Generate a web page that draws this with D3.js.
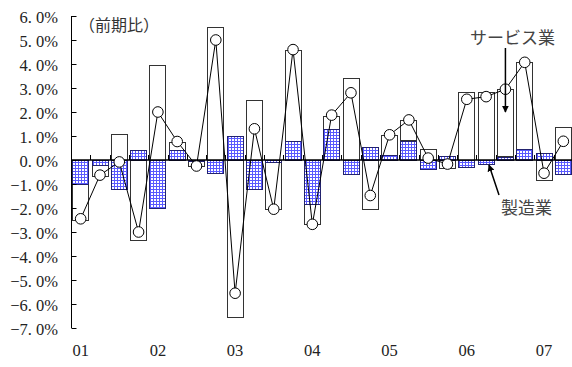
<!DOCTYPE html>
<html>
<head>
<meta charset="utf-8">
<script src="https://cdn.jsdelivr.net/npm/d3@7"></script>
<style>
  html, body { margin: 0; padding: 0; background: #fff; }
  svg { display: block; }
</style>
</head>
<body>
<svg id="chart" width="572" height="367"></svg>
<script>
// Quarterly contributions (%), 2001Q1 – 2007Q2
const quarters = [
  "01Q1","01Q2","01Q3","01Q4","02Q1","02Q2","02Q3","02Q4",
  "03Q1","03Q2","03Q3","03Q4","04Q1","04Q2","04Q3","04Q4",
  "05Q1","05Q2","05Q3","05Q4","06Q1","06Q2","06Q3","06Q4",
  "07Q1","07Q2"
];
// 製造業 contribution
const manufacturing = [
  -1.0, -0.2, -1.2, 0.4, -2.0, 0.4, -0.05, -0.55,
  1.0, -1.2, -0.1, 0.8, -1.85, 1.3, -0.58, 0.55,
  0.2, 0.8, -0.37, 0.17, -0.29, -0.17, 0.14, 0.44,
  0.28, -0.6
];
// サービス業 contribution
const services = [
  -1.5, -0.45, 1.07, -3.35, 3.95, 0.37, -0.2, 5.55,
  -6.55, 2.5, -1.95, 3.8, -0.85, 0.55, 3.4, -2.05,
  0.85, 0.85, 0.46, -0.35, 2.82, 2.82, 2.8, 3.63,
  -0.83, 1.39
];
// overall change (line with markers)
const total = [
  -2.45, -0.63, -0.08, -3.0, 2.0, 0.77, -0.25, 5.0,
  -5.55, 1.3, -2.05, 4.6, -2.68, 1.87, 2.8, -1.48,
  1.05, 1.67, 0.08, -0.17, 2.53, 2.64, 2.95, 4.07,
  -0.55, 0.78
];
const yearLabels = ["01","02","03","04","05","06","07"];
const yTicks = [6,5,4,3,2,1,0,-1,-2,-3,-4,-5,-6,-7];

const svg = d3.select("#chart");
const numFont = "'Liberation Serif', 'DejaVu Serif', serif";
const jpFont = "'Noto Sans CJK JP', 'Noto Sans CJK SC', sans-serif";

const plotLeft = 71, plotRight = 573, plotTop = 16, plotBottom = 328;

const x = d3.scaleBand().domain(quarters).range([plotLeft, plotRight])
  .paddingInner(0.13).paddingOuter(0.065);
const y = d3.scaleLinear().domain([-7, 6]).range([plotBottom, plotTop]);

// grid hatch for the manufacturing bars
const defs = svg.append("defs");
const pat = defs.append("pattern").attr("id", "hatch")
  .attr("patternUnits", "userSpaceOnUse").attr("width", 3).attr("height", 3);
pat.append("rect").attr("width", 3).attr("height", 3).attr("fill", "#fff");
pat.append("rect").attr("width", 1).attr("height", 3).attr("fill", "#5a5aff");
pat.append("rect").attr("width", 3).attr("height", 1).attr("fill", "#5a5aff");

defs.append("marker").attr("id", "arrow")
  .attr("viewBox", "0 0 10 10").attr("refX", 9).attr("refY", 5)
  .attr("markerWidth", 7).attr("markerHeight", 7)
  .attr("markerUnits", "userSpaceOnUse")
  .attr("orient", "auto")
  .append("path").attr("d", "M0,0 L10,5 L0,10 Z").attr("fill", "#000");

// diverging stack: manufacturing nearest the zero line, services beyond it
const rows = quarters.map((q, i) => ({ q, mfg: manufacturing[i], svc: services[i] }));
const stack = d3.stack().keys(["mfg", "svc"]).offset(d3.stackOffsetDiverging);
const series = stack(rows);

const fills = { mfg: "url(#hatch)", svc: "#fff" };
const strokes = { mfg: "#22226e", svc: "#333" };

// services first, then manufacturing on top
[series[1], series[0]].forEach(s => {
  svg.append("g").selectAll("rect").data(s).join("rect")
    .attr("x", d => Math.round(x(d.data.q)) + 0.5)
    .attr("width", Math.round(x.bandwidth()) - 1)
    .attr("y", d => Math.round(y(Math.max(d[0], d[1]))) + 0.5)
    .attr("height", d => Math.max(0, Math.round(Math.abs(y(d[0]) - y(d[1])))))
    .attr("fill", fills[s.key])
    .attr("stroke", strokes[s.key])
    .attr("stroke-width", 1);
});

// zero line with category ticks
svg.append("line")
  .attr("x1", plotLeft).attr("x2", 572)
  .attr("y1", y(0)).attr("y2", y(0))
  .attr("stroke", "#000").attr("stroke-width", 1.5);
svg.append("g").selectAll("line").data(quarters.slice(1)).join("line")
  .attr("x1", d => Math.round(x(d) - x.step() * x.paddingInner() / 2) + 0.5)
  .attr("x2", d => Math.round(x(d) - x.step() * x.paddingInner() / 2) + 0.5)
  .attr("y1", y(0) - 5).attr("y2", y(0))
  .attr("stroke", "#000").attr("stroke-width", 1);

// y axis
const yAxis = svg.append("g").attr("transform", `translate(${plotLeft + 0.5},0)`)
  .call(d3.axisRight(y).tickValues(yTicks).tickSize(5).tickFormat(""));
yAxis.select(".domain").attr("stroke", "#000").attr("d", `M0,${plotTop}V${plotBottom}`);
yAxis.selectAll(".tick line").attr("stroke", "#000");

svg.append("g").selectAll("text").data(yTicks).join("text")
  .attr("x", 58).attr("y", d => y(d) + 6.5)
  .attr("text-anchor", "end")
  .attr("font-family", numFont).attr("font-size", 16.5).attr("fill", "#222")
  .text(d => (d < 0 ? "\u2212" : "") + Math.abs(d).toFixed(1).replace(".", ". ") + "%");

// year labels under the first quarter of each year
svg.append("g").selectAll("text").data(yearLabels).join("text")
  .attr("x", d => x(d + "Q1") + x.bandwidth() / 2)
  .attr("y", 356)
  .attr("text-anchor", "middle")
  .attr("font-family", numFont).attr("font-size", 16.5).attr("fill", "#222")
  .text(d => d);

// total line and markers
const line = d3.line()
  .x((d, i) => x(quarters[i]) + x.bandwidth() / 2)
  .y(d => y(d));
svg.append("path").datum(total)
  .attr("d", line).attr("fill", "none")
  .attr("stroke", "#000").attr("stroke-width", 1);
svg.append("g").selectAll("circle").data(total).join("circle")
  .attr("cx", (d, i) => x(quarters[i]) + x.bandwidth() / 2)
  .attr("cy", d => y(d))
  .attr("r", 5.3)
  .attr("fill", "#fff").attr("stroke", "#000").attr("stroke-width", 1);

// annotations
svg.append("text").attr("x", 79).attr("y", 31)
  .attr("font-family", jpFont).attr("font-size", 16).attr("fill", "#333")
  .text("（前期比）");

svg.append("text").attr("x", 470).attr("y", 44)
  .attr("font-family", jpFont).attr("font-size", 17).attr("fill", "#444")
  .text("サービス業");
const sx = x("06Q3") + x.bandwidth() / 2;
svg.append("line")
  .attr("x1", sx).attr("y1", 48).attr("x2", sx).attr("y2", 112)
  .attr("stroke", "#000").attr("stroke-width", 1.5)
  .attr("marker-end", "url(#arrow)");

svg.append("text").attr("x", 501).attr("y", 214)
  .attr("font-family", jpFont).attr("font-size", 17).attr("fill", "#444")
  .text("製造業");
svg.append("line")
  .attr("x1", 499).attr("y1", 195).attr("x2", 489).attr("y2", 165)
  .attr("stroke", "#000").attr("stroke-width", 1.5)
  .attr("marker-end", "url(#arrow)");
</script>
</body>
</html>
